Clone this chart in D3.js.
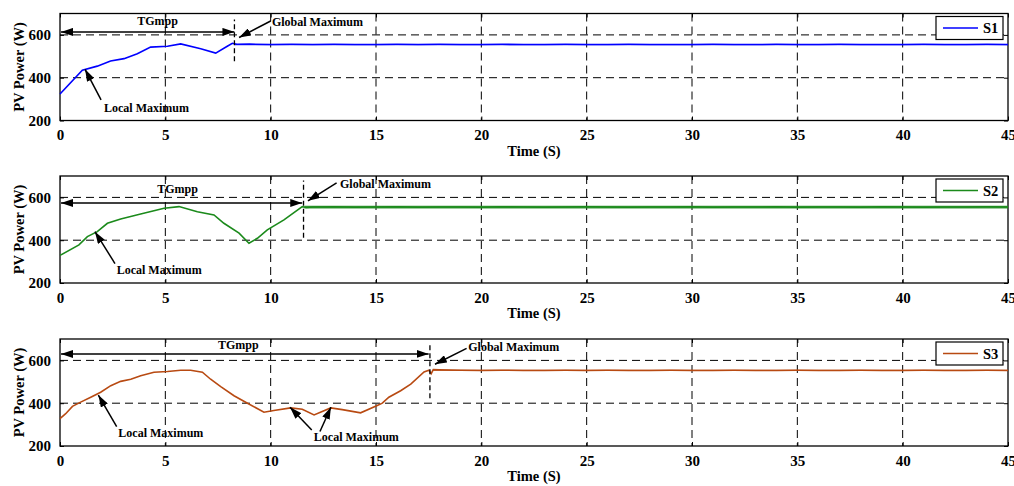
<!DOCTYPE html>
<html>
<head>
<meta charset="utf-8">
<script src="https://cdn.jsdelivr.net/npm/d3@7"></script>
<style>
  body { margin: 0; background: #fff; }
  text { font-family: "Liberation Serif", "Times New Roman", serif; font-weight: bold; fill: #000; }
</style>
</head>
<body>
<div id="chart"></div>
<script>
var svgWidth = 1014;
var svgHeight = 486;

// axis values
var xTicks = [0, 5, 10, 15, 20, 25, 30, 35, 40, 45];
var yTicks = [200, 400, 600];
var gridX = [5, 10, 15, 20, 25, 30, 35, 40];
var gridY = [400, 600];

// S1
var s1Time = [0, 1.06, 1.77, 2.4, 3.04, 3.67, 4.3, 5.1, 5.73, 6.68, 7.39, 7.94, 8.18, 8.4,
  9, 10, 11, 12, 13, 14, 15, 16, 17, 18, 19, 20, 21, 22, 23, 24, 25, 26, 27, 28, 29, 30,
  31, 32, 33, 34, 35, 36, 37, 38, 39, 40, 41, 42, 43, 44, 45];
var s1Power = [324, 435, 454, 478, 489, 512, 543, 547, 558, 535, 515, 547, 561, 556,
  557, 555, 556, 555, 556, 555, 555, 556, 555, 556, 555, 555, 556, 555, 555, 556, 555, 555, 556, 555, 555, 555,
  556, 555, 555, 556, 555, 555, 556, 555, 555, 555, 556, 555, 555, 556, 555];
var s1Band = [552, 558];
var s1Settle = 8.3;

// S2 - middle plot
var s2Time = [0, 0.9, 1.3, 1.77, 2.25, 2.88, 3.83, 4.94, 5.65, 6.52, 7.31, 7.78, 8.5, 8.97, 9.37, 9.84, 10.63, 11.5, 11.7,
  12, 13, 14, 15, 16, 17, 18, 19, 20, 21, 22, 23, 24, 25, 26, 27, 28, 29, 30,
  31, 32, 33, 34, 35, 36, 37, 38, 39, 40, 41, 42, 43, 44, 45];
var s2Power = [329, 378, 417, 440, 479, 499, 522, 549, 557, 533, 518, 479, 433, 386, 409, 448, 495, 557, 553,
  555, 556, 554, 555, 556, 554, 555, 555, 554, 556, 555, 554, 555, 556, 555, 554, 555, 555, 556,
  554, 555, 555, 556, 554, 555, 555, 554, 556, 555, 554, 555, 555, 556, 555];
var s2Band = [548, 561];
var s2Settle = 11.6;

// S3 - bottom plot
var s3Time = [0, 0.27, 0.59, 0.98, 1.46, 1.93, 2.41, 2.88, 3.36, 3.83, 4.46, 5.1, 5.73, 6.2, 6.76, 7.15, 7.63, 8.26, 8.9,
  9.68, 10.15, 10.95, 11.5, 12.06, 12.85, 13.4, 14.27, 15.06, 15.3, 15.61, 16.17, 16.65, 17.28, 17.51, 17.62, 17.72, 18,
  19, 20, 21, 22, 23, 24, 25, 26, 27, 28, 29, 30, 31, 32, 33, 34, 35, 36, 37, 38, 39, 40, 41, 42, 43, 44, 45];
var s3Power = [328, 351, 385, 405, 428, 451, 482, 502, 512, 528, 545, 548, 554, 554, 545, 512, 477, 435, 400,
  358, 366, 378, 372, 345, 378, 370, 355, 389, 400, 428, 458, 489, 546, 554, 538, 557, 556,
  554, 553, 554, 553, 553, 554, 553, 554, 553, 553, 554, 553, 553, 554, 553, 553, 554, 553, 553, 554, 553, 553, 554, 553, 553, 554, 553];
var s3Band = [550, 556];
var s3Settle = 17.7;

var seriesNames = ["S1", "S2", "S3"];
var seriesColors = ["#0000ff", "#1b8a1b", "#b84a12"];

// annotations in data units (time, power)
var tgEnd = [8.28, 11.5, 17.5];
var tgArrowY = [614, 574, 630];
var tgTextPos = [[4.63, 645], [5.58, 622], [8.46, 653]];
var settleLine = [[8.28, 477, 672], [11.56, 411, 679], [17.56, 423, 683]];
var globalArrow = [[[10.0, 665], [8.5, 588]], [[13.13, 668], [11.77, 584]], [[19.3, 656], [17.8, 582]]];
var globalText = [[10.06, 641], [13.29, 646], [19.38, 645]];
var localArrows = [
  [[[1.95, 296], [1.19, 439]]],
  [[[2.61, 291], [1.66, 440]]],
  [[[2.69, 290], [1.82, 438]], [[11.95, 275], [10.92, 381]], [[12.34, 268], [12.86, 381]]]
];
var localTexts = [[[2.09, 242]], [[2.69, 240]], [[2.77, 241], [12.05, 223]]];

var margin = { left: 60, right: 6 };
var panelTops = [13.5, 176, 339];
var panelHeight = 107;
var width = svgWidth - margin.left - margin.right;

var svg = d3.select("#chart")
  .append("svg")
  .attr("width", svgWidth)
  .attr("height", svgHeight);

var defs = svg.append("defs");
defs.append("marker")
  .attr("id", "head")
  .attr("markerUnits", "userSpaceOnUse")
  .attr("viewBox", "0 0 12 8")
  .attr("refX", 12)
  .attr("refY", 4)
  .attr("markerWidth", 12)
  .attr("markerHeight", 8)
  .attr("orient", "auto-start-reverse")
  .append("path")
  .attr("d", "M0,0 L12,4 L0,8 Z")
  .attr("fill", "#000");

var xScale = d3.scaleLinear().domain([0, 45]).range([0, width]);

var allTime = [s1Time, s2Time, s3Time];
var allPower = [s1Power, s2Power, s3Power];
var allBand = [s1Band, s2Band, s3Band];
var allSettle = [s1Settle, s2Settle, s3Settle];

for (var p = 0; p < 3; p++) {
  var yScale = d3.scaleLinear().domain([200, 700]).range([panelHeight, 0]);
  var g = svg.append("g")
    .attr("transform", `translate(${margin.left}, ${panelTops[p]})`);

  // dashed grid
  g.selectAll(".gx").data(gridX).enter().append("line")
    .attr("x1", d => xScale(d)).attr("x2", d => xScale(d))
    .attr("y1", 0).attr("y2", panelHeight)
    .attr("stroke", "#000").attr("stroke-width", 1)
    .attr("stroke-dasharray", "8,5");
  g.selectAll(".gy").data(gridY).enter().append("line")
    .attr("x1", 0).attr("x2", width)
    .attr("y1", d => yScale(d)).attr("y2", d => yScale(d))
    .attr("stroke", "#000").attr("stroke-width", 1)
    .attr("stroke-dasharray", "8,5");

  // axes
  var bottomAxis = d3.axisBottom(xScale).tickValues(xTicks).tickSizeInner(-4).tickSizeOuter(0).tickPadding(9);
  var leftAxis = d3.axisLeft(yScale).tickValues(yTicks).tickSizeInner(-4).tickSizeOuter(0).tickPadding(9);
  var topAxis = d3.axisTop(xScale).tickValues(xTicks).tickSizeInner(-4).tickSizeOuter(0).tickFormat("");
  var rightAxis = d3.axisRight(yScale).tickValues(yTicks).tickSizeInner(-4).tickSizeOuter(0).tickFormat("");

  var xAx = g.append("g").attr("transform", `translate(0, ${panelHeight})`).call(bottomAxis);
  var yAx = g.append("g").call(leftAxis);
  g.append("g").call(topAxis);
  g.append("g").attr("transform", `translate(${width}, 0)`).call(rightAxis);
  g.selectAll(".domain").remove();
  g.selectAll(".tick line").attr("stroke", "#000");
  xAx.selectAll("text").style("font-size", "15px").attr("font-family", null);
  yAx.selectAll("text").style("font-size", "15px").attr("font-family", null);

  // frame
  g.append("rect")
    .attr("x", 0).attr("y", 0)
    .attr("width", width).attr("height", panelHeight)
    .attr("fill", "none").attr("stroke", "#000").attr("stroke-width", 1.3);

  // axis labels
  g.append("text")
    .attr("x", width / 2).attr("y", panelHeight + 35)
    .attr("text-anchor", "middle")
    .style("font-size", "14.5px")
    .text("Time (S)");
  g.append("text")
    .attr("transform", "rotate(-90)")
    .attr("x", -panelHeight / 2).attr("y", -41)
    .attr("text-anchor", "middle")
    .attr("dominant-baseline", "central")
    .style("font-size", "14.5px")
    .text("PV Power (W)");

  // noise band in steady state
  var band = allBand[p];
  var settle = allSettle[p];
  g.append("path")
    .datum([settle, 45])
    .attr("d", d3.area().x(d => xScale(d)).y0(yScale(band[0])).y1(yScale(band[1])))
    .attr("fill", seriesColors[p])
    .attr("opacity", 0.85);

  // series line
  var pts = allTime[p].map((t, i) => [t, allPower[p][i]]);
  g.append("path")
    .datum(pts)
    .attr("d", d3.line().x(d => xScale(d[0])).y(d => yScale(d[1])))
    .attr("fill", "none")
    .attr("stroke", seriesColors[p])
    .attr("stroke-width", 1.6);

  // TGmpp double arrow
  g.append("line")
    .attr("x1", xScale(0) + 1).attr("x2", xScale(tgEnd[p]))
    .attr("y1", yScale(tgArrowY[p])).attr("y2", yScale(tgArrowY[p]))
    .attr("stroke", "#000").attr("stroke-width", 1.5)
    .attr("marker-start", "url(#head)")
    .attr("marker-end", "url(#head)");
  g.append("text")
    .attr("x", xScale(tgTextPos[p][0])).attr("y", yScale(tgTextPos[p][1]))
    .attr("text-anchor", "middle")
    .style("font-size", "12px")
    .text("TGmpp");

  // settling marker
  var sl = settleLine[p];
  g.append("line")
    .attr("x1", xScale(sl[0])).attr("x2", xScale(sl[0]))
    .attr("y1", yScale(sl[1])).attr("y2", yScale(sl[2]))
    .attr("stroke", "#000").attr("stroke-width", 1.3)
    .attr("stroke-dasharray", "5,3");

  // Global Maximum
  var ga = globalArrow[p];
  g.append("line")
    .attr("x1", xScale(ga[0][0])).attr("y1", yScale(ga[0][1]))
    .attr("x2", xScale(ga[1][0])).attr("y2", yScale(ga[1][1]))
    .attr("stroke", "#000").attr("stroke-width", 1.5)
    .attr("marker-end", "url(#head)");
  g.append("text")
    .attr("x", xScale(globalText[p][0])).attr("y", yScale(globalText[p][1]))
    .style("font-size", "12px")
    .text("Global Maximum");

  // Local Maximum
  localArrows[p].forEach(function(a) {
    g.append("line")
      .attr("x1", xScale(a[0][0])).attr("y1", yScale(a[0][1]))
      .attr("x2", xScale(a[1][0])).attr("y2", yScale(a[1][1]))
      .attr("stroke", "#000").attr("stroke-width", 1.5)
      .attr("marker-end", "url(#head)");
  });
  localTexts[p].forEach(function(t) {
    g.append("text")
      .attr("x", xScale(t[0])).attr("y", yScale(t[1]))
      .style("font-size", "12px")
      .text("Local Maximum");
  });

  // legend
  var lg = g.append("g").attr("transform", `translate(${width - 72}, 3)`);
  lg.append("rect")
    .attr("width", 67).attr("height", 23)
    .attr("fill", "#fff").attr("stroke", "#000").attr("stroke-width", 1.2);
  lg.append("line")
    .attr("x1", 7).attr("x2", 42).attr("y1", 11.5).attr("y2", 11.5)
    .attr("stroke", seriesColors[p]).attr("stroke-width", 1.6);
  lg.append("text")
    .attr("x", 47).attr("y", 16.5)
    .style("font-size", "14.5px")
    .text(seriesNames[p]);
}
</script>
</body>
</html>
